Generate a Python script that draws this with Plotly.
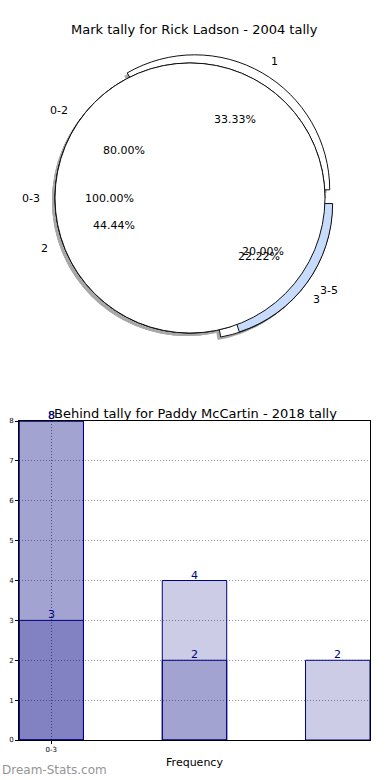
import math
import plotly.graph_objects as go

W, H = 390, 780
FONT = "DejaVu Sans"

# ---------------- data ----------------
pie_a_labels = ["1", "2", "3"]
pie_a_values = [3, 4, 2]
pie_a_pull = [0.07, 0, 0.07]

pie_b_labels = ["0-2", "3-5"]
pie_b_values = [4, 1]
pie_b_pull = [0, 0.07]

pie_c_labels = ["0-3"]
pie_c_values = [1]
pie_c_pull = [0]

bar_positions = [0, 1, 2]
bar_series_1 = [8, 4, 2]
bar_series_2 = [8, 2, None]
bar_series_3 = [3, None, None]
x_tick_vals = [0]
x_tick_labels = ["0-3"]
y_ticks = [0, 1, 2, 3, 4, 5, 6, 7, 8]

pie_title = "Mark tally for Rick Ladson - 2004 tally"
bar_title = "Behind tally for Paddy McCartin - 2018 tally"

# ---------------- layout constants ----------------
CX, CY, R = 190, 198, 135
WHITE = "#ffffff"
BLUE = "#c7dbfd"
SHADOW = "#a8a8a8"

pies = [
    (pie_a_labels, pie_a_values, pie_a_pull, [WHITE, WHITE, WHITE]),
    (pie_b_labels, pie_b_values, pie_b_pull, [WHITE, BLUE]),
    (pie_c_labels, pie_c_values, pie_c_pull, [WHITE]),
]


def pie_domain(pull, dx=0.0, dy=0.0):
    s = 2 * R * (1 + max(pull))
    cx, cy = CX + dx, CY + dy
    return dict(x=[(cx - s / 2) / W, (cx + s / 2) / W],
                y=[1 - (cy + s / 2) / H, 1 - (cy - s / 2) / H])


def start_rotation(values):
    # first slice starts at 3 o'clock and slices run counterclockwise
    return 90 - 360.0 * values[0] / float(sum(values))


fig = go.Figure()

# shadows first (below all wedges)
for labels, values, pull, colors in pies:
    fig.add_trace(go.Pie(
        labels=labels, values=values, pull=pull, sort=False,
        direction="counterclockwise", rotation=start_rotation(values),
        domain=pie_domain(pull, -3, 3),
        marker=dict(colors=[SHADOW] * len(values), line=dict(width=0)),
        textinfo="none", hoverinfo="skip", showlegend=False,
    ))

# wedges
for labels, values, pull, colors in pies:
    fig.add_trace(go.Pie(
        labels=labels, values=values, pull=pull, sort=False,
        direction="counterclockwise", rotation=start_rotation(values),
        domain=pie_domain(pull),
        marker=dict(colors=colors, line=dict(color="#111111", width=1)),
        textinfo="none", hoverinfo="label+percent", showlegend=False,
    ))

annotations = []
# pie texts (labels at 1.1 r, percents at 0.6 r, shifted by the pull)
for labels, values, pull, colors in pies:
    total = float(sum(values))
    cum = 0.0
    for lab, v, p in zip(labels, values, pull):
        theta = math.radians(360.0 * (cum + v / 2.0) / total)
        cum += v
        c, s = math.cos(theta), math.sin(theta)
        ox, oy = CX + p * R * c, CY - p * R * s
        lx, ly = ox + 1.1 * R * c, oy - 1.1 * R * s
        tx, ty = ox + 0.6 * R * c, oy - 0.6 * R * s
        annotations.append(dict(
            x=lx / W, y=1 - ly / H, xref="paper", yref="paper",
            text=lab, showarrow=False,
            xanchor="left" if c > 0 else "right", yanchor="middle",
            font=dict(family=FONT, size=11, color="#000000"),
        ))
        annotations.append(dict(
            x=tx / W, y=1 - ty / H, xref="paper", yref="paper",
            text="%.2f%%" % (100.0 * v / total), showarrow=False,
            xanchor="center", yanchor="middle",
            font=dict(family=FONT, size=11, color="#000000"),
        ))

# ---------------- bar chart ----------------
for series in (bar_series_1, bar_series_2, bar_series_3):
    fig.add_trace(go.Bar(
        x=bar_positions, y=series, width=0.45,
        marker=dict(color="rgba(0,0,128,0.2)", line=dict(color="#000080", width=1)),
        showlegend=False, xaxis="x", yaxis="y",
    ))
    for xp, v in zip(bar_positions, series):
        if v is None:
            continue
        annotations.append(dict(
            x=xp, y=v, xref="x", yref="y", text=str(v), showarrow=False,
            xanchor="center", yanchor="bottom", yshift=-3,
            font=dict(family=FONT, size=11, color="#000080"),
        ))

annotations.append(dict(
    x=194 / W, y=1 - 30 / H, xref="paper", yref="paper", text=pie_title,
    showarrow=False, xanchor="center", yanchor="middle",
    font=dict(family=FONT, size=13, color="#000000"),
))
annotations.append(dict(
    x=195 / W, y=1 - 413 / H, xref="paper", yref="paper", text=bar_title,
    showarrow=False, xanchor="center", yanchor="middle",
    font=dict(family=FONT, size=13, color="#000000"),
))
annotations.append(dict(
    x=0, y=1 - 770 / H, xref="paper", yref="paper", text="Dream-Stats.com",
    showarrow=False, xanchor="left", yanchor="middle",
    font=dict(family=FONT, size=12, color="#959595"),
))

fig.update_layout(
    width=W, height=H,
    margin=dict(l=0, r=0, t=0, b=0),
    paper_bgcolor="white", plot_bgcolor="white",
    barmode="overlay",
    font=dict(family=FONT, color="#000000"),
    annotations=annotations,
    xaxis=dict(
        domain=[19 / W, 370 / W], range=[-0.225, 2.225],
        tickvals=x_tick_vals, ticktext=x_tick_labels,
        tickfont=dict(size=7, family=FONT),
        ticks="outside", ticklen=3, tickcolor="#000000",
        showgrid=True, gridcolor="#777777", griddash="1px,2px", gridwidth=1,
        showline=True, mirror=True, linecolor="#000000", linewidth=1,
        zeroline=False,
        title=dict(text="Frequency", font=dict(size=11, family=FONT), standoff=4),
        automargin=False,
    ),
    yaxis=dict(
        domain=[1 - 740 / H, 1 - 421 / H], range=[0, 8],
        tickvals=y_ticks, tickfont=dict(size=7, family=FONT),
        ticks="outside", ticklen=3, tickcolor="#000000",
        showgrid=True, gridcolor="#999999", griddash="1px,2px", gridwidth=1,
        showline=True, mirror=True, linecolor="#000000", linewidth=1,
        zeroline=False, automargin=False,
    ),
)

fig.write_html(
    "out.html",
    config={"displayModeBar": False},
    post_script="document.body.style.margin='0';document.body.style.overflow='hidden';",
)
